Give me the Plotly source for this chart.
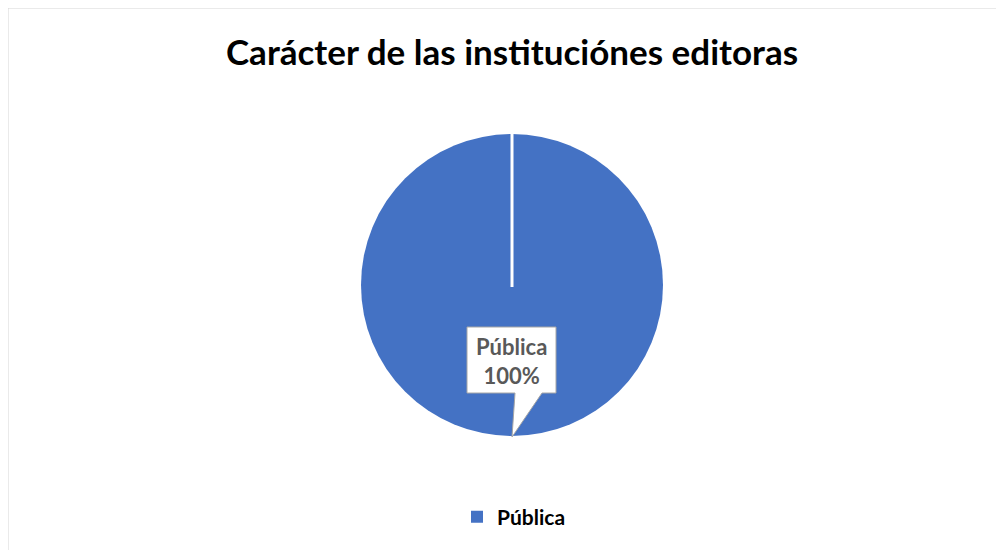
import plotly.graph_objects as go

title_text = "Carácter de las instituciónes editoras"
labels = ["Pública"]
values = [100]
colors = ["#4472C4"]

W, H = 1004, 550
OFF = 8  # page body margin offset
def px(x): return (x - OFF) / W
def py(y): return 1 - (y - OFF) / H

# pie geometry (pixels in screenshot)
cx, cy, r = 512, 285, 151

fig = go.Figure()
fig.add_trace(go.Pie(
    labels=[f"<b>{l}</b>" for l in labels], values=values, sort=False, direction="clockwise", rotation=0,
    marker=dict(colors=colors, line=dict(color="white", width=0)),
    textinfo="none", hoverinfo="label+percent",
    domain=dict(x=[px(cx - r), px(cx + r)], y=[py(cy + r), py(cy - r)]),
    showlegend=True,
))

total = sum(values)
pct = [round(v / total * 100) for v in values]

shapes = [
    dict(type="rect", xref="paper", yref="paper", x0=px(7.5), y0=py(600), x1=px(1040), y1=py(7.5),
         line=dict(color="#d6d6d6", width=2), fillcolor="rgba(0,0,0,0)", layer="below"),
    dict(type="line", xref="paper", yref="paper", x0=px(cx), y0=py(cy - r - 1), x1=px(cx), y1=py(cy + 2),
         line=dict(color="white", width=3)),
]
bx0, bx1, by0, by1 = 467, 556, 327, 393
tipx, tipy = cx, cy + r + 1
path = (f"M {px(bx0)},{py(by0)} L {px(bx1)},{py(by0)} L {px(bx1)},{py(by1)} "
        f"L {px(542)},{py(by1)} L {px(tipx)},{py(tipy)} L {px(515)},{py(by1)} "
        f"L {px(bx0)},{py(by1)} Z")
shapes.append(dict(type="path", xref="paper", yref="paper", path=path,
                   fillcolor="white", line=dict(color="#a6a6a6", width=1)))

annotations = [
    dict(xref="paper", yref="paper", x=px((bx0 + bx1) / 2), y=py((by0 + by1) / 2 + 1),
         text=f"<b>{labels[0]}</b><br><b>{pct[0]}%</b>", showarrow=False,
         font=dict(family="Lato, Carlito, sans-serif", size=22, color="#595959"),
         align="center", xanchor="center", yanchor="middle"),
]

fig.update_layout(
    width=W, height=H,
    margin=dict(l=0, r=0, t=0, b=0),
    paper_bgcolor="white", plot_bgcolor="white",
    title=dict(text=f"<b>{title_text}</b>", x=px(512), xanchor="center", y=py(53), yanchor="middle",
               font=dict(family="Lato, Carlito, sans-serif", size=35, color="black")),
    legend=dict(orientation="h", x=px(457), xanchor="left", y=py(517), yanchor="middle",
                font=dict(family="Lato, Carlito, sans-serif", size=21, color="black"),
                bgcolor="rgba(0,0,0,0)", itemwidth=30),
    shapes=shapes, annotations=annotations,
)

fig.write_html("out.html")
